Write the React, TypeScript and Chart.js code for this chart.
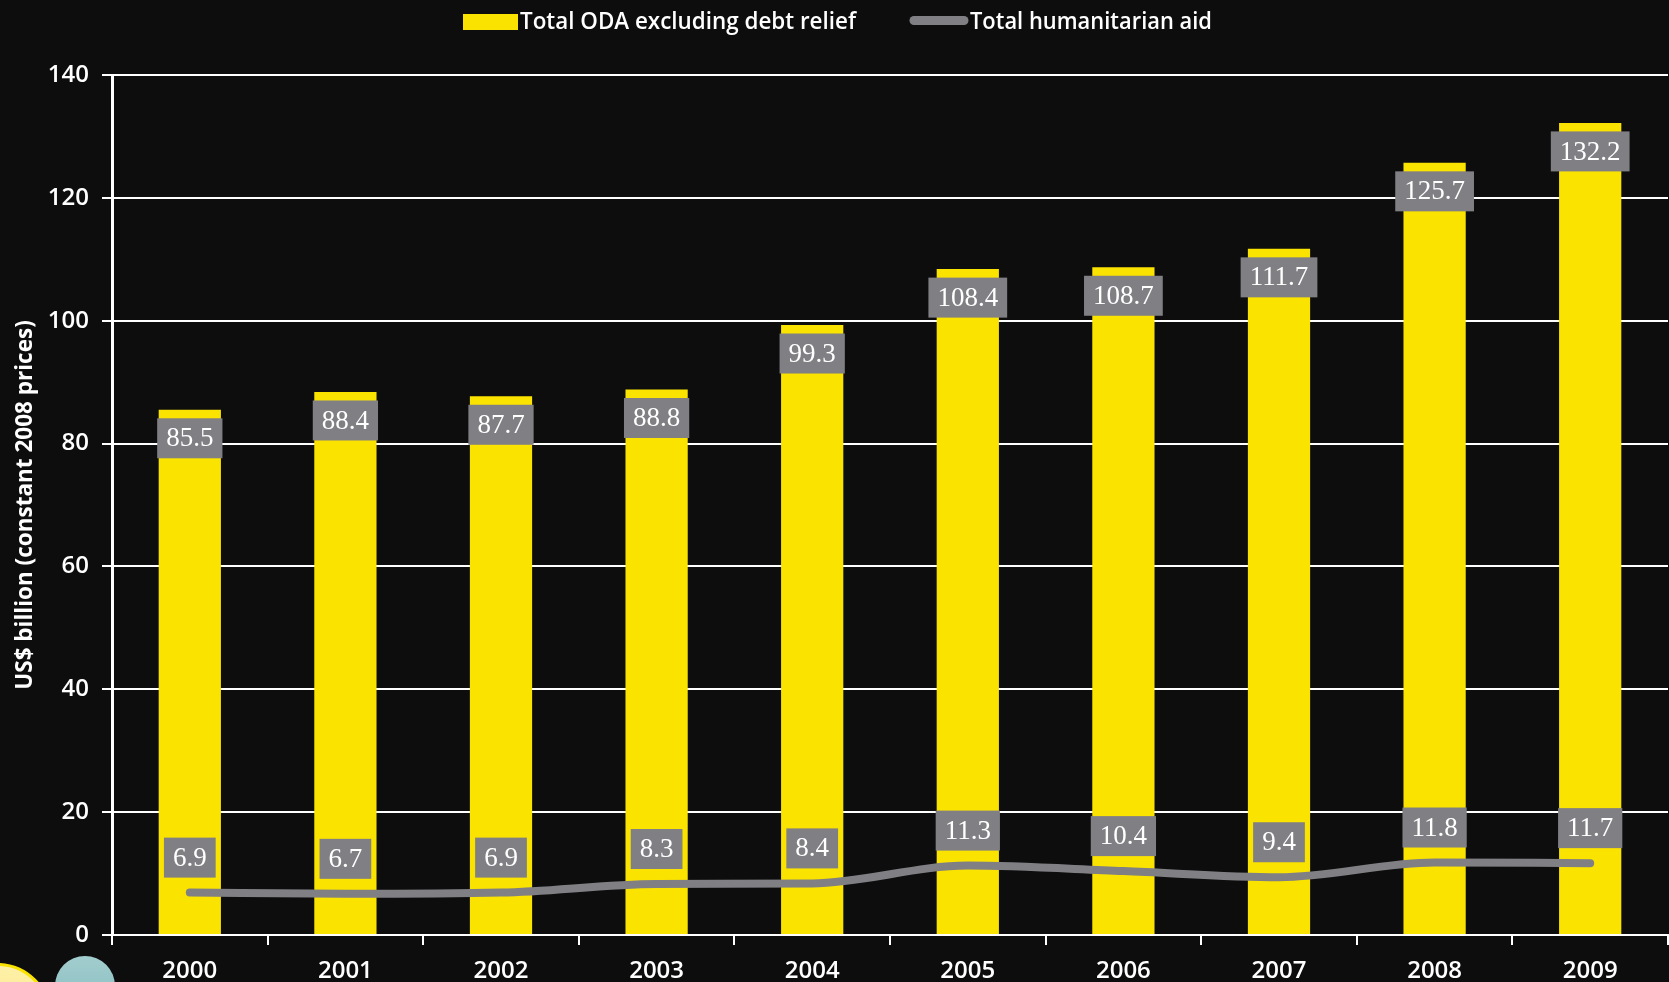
import React, { useEffect, useRef } from "react";
import { Chart, registerables } from "chart.js";

Chart.register(...registerables);

const years = ["2000","2001","2002","2003","2004","2005","2006","2007","2008","2009"];
const odaValues = [85.5,88.4,87.7,88.8,99.3,108.4,108.7,111.7,125.7,132.2];
const humanitarianValues = [6.9,6.7,6.9,8.3,8.4,11.3,10.4,9.4,11.8,11.7];
const odaLabel = "Total ODA excluding debt relief";
const aidLabel = "Total humanitarian aid";
const yTitle = "US$ billion (constant 2008 prices)";

const BG = "#0d0d0d";
const YELLOW = "#fbe300";
const GRAY = "#807f84";
const AXIS_FONT = "Open Sans";

const boxesPlugin = {
  id: "valueBoxes",
  afterDatasetsDraw(chart: any) {
    const { ctx } = chart;
    ctx.save();
    ctx.font = "27px 'Liberation Serif'";
    ctx.textAlign = "center";
    ctx.textBaseline = "middle";
    const offsets = [28.5, -35];
    chart.data.datasets.forEach((ds: any, di: number) => {
      const meta = chart.getDatasetMeta(di);
      meta.data.forEach((el: any, i: number) => {
        const text = ds.data[i].toFixed(1);
        const w = ctx.measureText(text).width + 18;
        const cy = el.y + offsets[di];
        ctx.fillStyle = GRAY;
        ctx.fillRect(el.x - w / 2, cy - 20, w, 40);
        ctx.fillStyle = "#ffffff";
        ctx.fillText(text, el.x, cy + 1);
      });
    });
    ctx.restore();
  },
};

const legendPlugin = {
  id: "topLegend",
  afterDraw(chart: any) {
    const { ctx } = chart;
    const [oda, aid] = chart.data.datasets;
    ctx.save();
    ctx.font = "600 24px 'Open Sans'";
    ctx.textBaseline = "middle";
    ctx.textAlign = "left";
    ctx.fillStyle = oda.backgroundColor;
    ctx.fillRect(463, 14, 55, 16);
    ctx.strokeStyle = aid.borderColor;
    ctx.lineWidth = 9;
    ctx.lineCap = "round";
    ctx.beginPath();
    ctx.moveTo(914, 20.5);
    ctx.lineTo(964, 20.5);
    ctx.stroke();
    ctx.fillStyle = "#ffffff";
    const fit = (t: string, x: number, w: number) => {
      const m = ctx.measureText(t).width;
      ctx.save();
      ctx.translate(x, 22);
      ctx.scale(w / m, 1);
      ctx.fillText(t, 0, 0);
      ctx.restore();
    };
    fit(oda.label, 520, 336);
    fit(aid.label, 970, 242);
    ctx.restore();
  },
};

export default function App() {
  const ref = useRef<HTMLCanvasElement>(null);
  useEffect(() => {
    const chart = new Chart(ref.current!, {
      type: "bar",
      data: {
        labels: years,
        datasets: [
          {
            type: "bar",
            label: odaLabel,
            data: odaValues,
            backgroundColor: YELLOW,
            barPercentage: 0.4,
            categoryPercentage: 1,
            order: 2,
          },
          {
            type: "line",
            label: aidLabel,
            data: humanitarianValues,
            borderColor: GRAY,
            backgroundColor: GRAY,
            borderWidth: 8,
            borderCapStyle: "round",
            pointRadius: 0,
            cubicInterpolationMode: "monotone",
            order: 1,
          },
        ] as any,
      },
      options: {
        animation: false,
        responsive: false,
        layout: { padding: { top: 75, right: 1, left: 0, bottom: 0 } },
        plugins: { legend: { display: false }, tooltip: { enabled: false } },
        scales: {
          x: {
            offset: true,
            afterFit: (s: any) => { s.height = 47; },
            grid: { display: true, drawOnChartArea: false, color: "#fff", lineWidth: 2, tickLength: 10 },
            border: { color: "#fff", width: 2 },
            ticks: { color: "#fff", font: { family: AXIS_FONT, size: 24, weight: 600 }, padding: 12, maxRotation: 0 },
          },
          y: {
            min: 0,
            max: 140,
            afterFit: (s: any) => { s.width = 112; },
            grid: { color: "#fff", lineWidth: 2, tickLength: 10 },
            border: { color: "#fff", width: 3 },
            ticks: { stepSize: 20, color: "#fff", font: { family: AXIS_FONT, size: 24, weight: 600 }, padding: 13 },
            title: {
              display: true,
              text: yTitle,
              color: "#fff",
              font: { family: AXIS_FONT, size: 22.5, weight: 700 },
              padding: { top: 12, bottom: 0 },
            },
          },
        },
      },
      plugins: [boxesPlugin, legendPlugin],
    } as any);
    return () => chart.destroy();
  }, []);
  return (
    <div style={{ position: "fixed", left: 0, top: 0, width: 1669, height: 982, background: BG, overflow: "hidden" }}>
      <canvas ref={ref} width={1669} height={982} style={{ display: "block" }} />
      <div style={{ position: "absolute", left: -58, top: 963, width: 110, height: 110, borderRadius: "50%", background: "linear-gradient(#fdf0a8, #fbe070)", border: "3px solid #fbe300", boxSizing: "border-box" }} />
      <div style={{ position: "absolute", left: 55, top: 956, width: 60, height: 60, borderRadius: "50%", background: "linear-gradient(#a3cdce, #84bcbf)" }} />
    </div>
  );
}
